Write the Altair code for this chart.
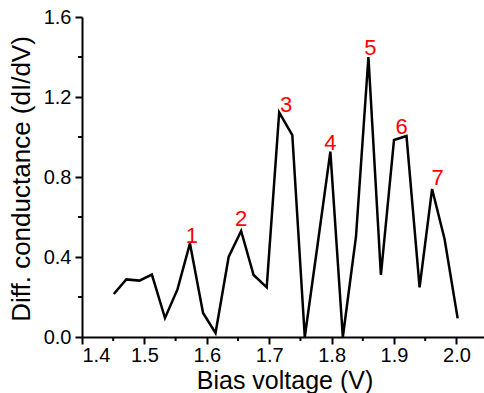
import altair as alt
import pandas as pd

# Differential conductance spectrum
bias_v = [1.451, 1.471, 1.492, 1.512, 1.533, 1.553, 1.573, 1.594, 1.614, 1.635,
          1.655, 1.675, 1.696, 1.716, 1.737, 1.757, 1.777, 1.798, 1.818, 1.839,
          1.859, 1.879, 1.900, 1.920, 1.941, 1.961, 1.981, 2.002]
didv = [0.215, 0.288, 0.282, 0.312, 0.095, 0.238, 0.468, 0.120, 0.020, 0.400,
        0.530, 0.310, 0.248, 1.123, 1.010, 0.000, 0.450, 0.927, 0.000, 0.500,
        1.400, 0.310, 0.985, 1.005, 0.248, 0.740, 0.490, 0.093]

# Peak numbering
peak_names = ["1", "2", "3", "4", "5", "6", "7"]
peak_x = [1.576, 1.655, 1.727, 1.798, 1.862, 1.912, 1.970]
peak_y = [0.472, 0.553, 1.124, 0.937, 1.412, 1.017, 0.762]

x_ticks = [1.4, 1.5, 1.6, 1.7, 1.8, 1.9, 2.0]
x_minor = [1.45, 1.55, 1.65, 1.75, 1.85, 1.95]
y_ticks = [0.0, 0.4, 0.8, 1.2, 1.6]
y_minor = [0.2, 0.6, 1.0, 1.4]

W, H = 402, 320
FONT = "Liberation Sans"

xscale = alt.Scale(domain=[1.4, 2.0442], nice=False, zero=False)
yscale = alt.Scale(domain=[0, 1.6], nice=False)

x_axis = alt.Axis(values=x_ticks, format=".1f", title="Bias voltage (V)",
                  labelPadding=1, titleX=202.5, titleY=51, titleFontSize=25,
                  titleBaseline="alphabetic", titleAlign="center")
y_axis = alt.Axis(values=y_ticks, format=".1f", title="Diff. conductance (dI/dV)",
                  labelPadding=4, titleX=-53, titleY=161.5,
                  titleAngle=-90, titleBaseline="alphabetic", titleAlign="center")


def xenc():
    return alt.X("v:Q", scale=xscale, axis=x_axis, title="Bias voltage (V)")


def yenc():
    return alt.Y("g:Q", scale=yscale, axis=y_axis, title="Diff. conductance (dI/dV)")


spec_df = pd.DataFrame({"v": bias_v, "g": didv})
peaks_df = pd.DataFrame({"v": peak_x, "g": peak_y, "name": peak_names})
xm_df = pd.DataFrame({"v": x_minor})
ym_df = pd.DataFrame({"g": y_minor})

line = alt.Chart(spec_df).mark_line(color="black", strokeWidth=2.5).encode(
    x=xenc(), y=yenc()
)

labels = alt.Chart(peaks_df).mark_text(
    color="#ff0000", font=FONT, fontSize=22, baseline="alphabetic", align="center"
).encode(x=xenc(), y=yenc(), text="name:N")

# short unlabeled minor ticks between the major ones
x_minor_ticks = alt.Chart(xm_df).mark_rule(color="black", strokeWidth=2).encode(
    x=xenc(), y=alt.value(H), y2=alt.value(H + 4)
)
y_minor_ticks = alt.Chart(ym_df).mark_rule(color="black", strokeWidth=2).encode(
    y=yenc(), x=alt.value(0), x2=alt.value(-4)
)

chart = alt.layer(x_minor_ticks, y_minor_ticks, line, labels).properties(
    width=W, height=H,
    autosize=alt.AutoSizeParams(type="none"),
    padding={"left": 82, "top": 17, "right": 0, "bottom": 56},
).configure_view(stroke=None).configure_axis(
    grid=False,
    domainColor="black", domainWidth=2,
    tickColor="black", tickWidth=2, tickSize=7,
    labelFont=FONT, labelFontSize=20, labelColor="black",
    titleFont=FONT, titleFontSize=26, titleFontWeight="normal", titleColor="black",
)

chart.save("out.html", embed_options={"renderer": "svg", "actions": False})
